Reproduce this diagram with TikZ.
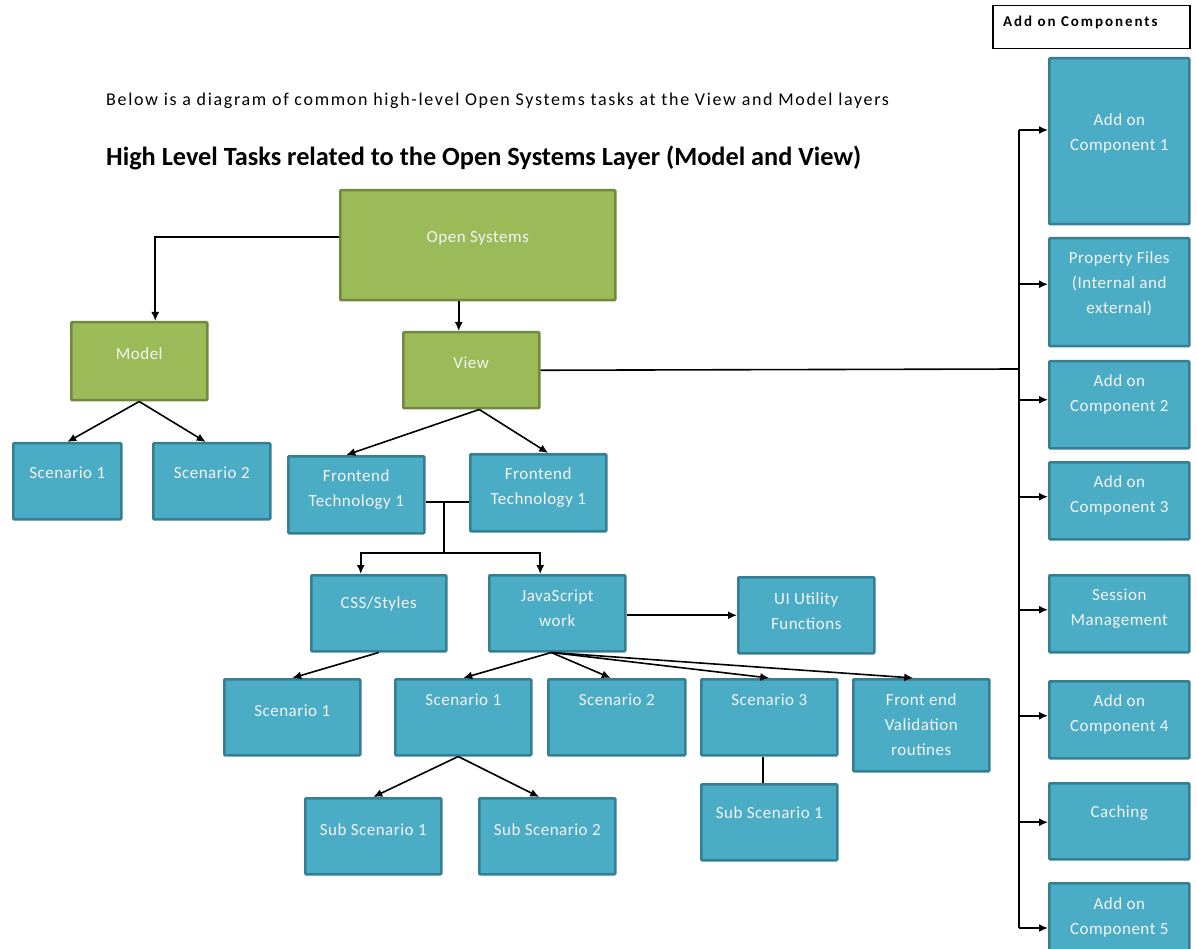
\documentclass[tikz,border=0pt]{standalone}
\usepackage{fontspec}
\setmainfont{Carlito}
\usetikzlibrary{arrows.meta}
\definecolor{gfill}{HTML}{9BBB59}
\definecolor{gline}{HTML}{71893F}
\definecolor{bfill}{HTML}{4BACC6}
\definecolor{bline}{HTML}{357F93}
\definecolor{txtw}{HTML}{F4F4F4}
% style, name, x1, y1, x2, y2, text-y, text
\newcommand\bx[8]{%
  \node[#1, anchor=north west, minimum width={(#5-#3)*1pt}, minimum height={(#6-#4)*1pt},
    label={[boxtext, yshift={((#4+#6)/2-#7)*1pt}]center:#8}] (#2) at (#3,#4) {};}
\begin{document}
\begin{tikzpicture}[x=1pt, y=-1pt,
  gbox/.style={draw=gline, fill=gfill, line width=2.5pt, rounded corners=1pt, inner sep=0pt},
  bbox/.style={draw=bline, fill=bfill, line width=2.5pt, rounded corners=1pt, inner sep=0pt},
  hbox/.style={draw=black, line width=1.5pt, inner sep=0pt},
  boxtext/.style={text=txtw, font=\fontsize{17}{25}\selectfont\addfontfeatures{LetterSpace=3}, align=center, inner sep=0pt},
  arr/.style={draw=black, line width=1.6pt, -{Latex[length=9pt,width=8pt]}},
  ln/.style={draw=black, line width=1.6pt}]
\useasboundingbox (0,0) rectangle (1197,949);

\node[anchor=west, inner sep=0pt, font=\fontsize{18}{20}\selectfont\addfontfeatures{LetterSpace=9.3}] (intro) at (106,101)
  {Below is a diagram of common high-level Open Systems tasks at the View and Model layers};
\node[anchor=west, inner sep=0pt, font=\fontsize{26.3}{30}\selectfont\bfseries] (title) at (106,158)
  {High Level Tasks related to the Open Systems Layer (Model and View)};

% main tree
\bx{gbox}{os}{339}{189}{614}{299}{237}{Open Systems}
\bx{gbox}{model}{70}{321}{206}{399}{352}{Model}
\bx{gbox}{view}{402}{331}{538}{407}{361}{View}
\bx{bbox}{ms1}{12}{442}{120}{518}{471}{Scenario 1}
\bx{bbox}{ms2}{152}{442}{269}{518}{471}{Scenario 2}
\bx{bbox}{ftl}{287}{455}{423}{532}{488}{Frontend\\Technology 1}
\bx{bbox}{ftr}{469}{453}{605}{530}{486}{Frontend\\Technology 1}
\bx{bbox}{css}{310}{574}{445}{650}{603}{CSS/Styles}
\bx{bbox}{js}{488}{574}{624}{650}{607}{JavaScript\\work}
\bx{bbox}{ui}{737}{576}{873}{652}{610}{UI Utility\\Functions}
\bx{bbox}{cs1}{223}{678}{359}{754}{709}{Scenario 1}
\bx{bbox}{js1}{394}{678}{530}{754}{698}{Scenario 1}
\bx{bbox}{js2}{547}{678}{684}{754}{698}{Scenario 2}
\bx{bbox}{js3}{700}{678}{836}{754}{698}{Scenario 3}
\bx{bbox}{fev}{852}{678}{988}{770}{723}{Front end\\Validation\\routines}
\bx{bbox}{ss1}{304}{797}{440}{873}{828}{Sub Scenario 1}
\bx{bbox}{ss2}{478}{797}{614}{873}{828}{Sub Scenario 2}
\bx{bbox}{ss3}{700}{783}{836}{859}{811}{Sub Scenario 1}

% add-on column
\node[hbox, anchor=north west, minimum width=197pt, minimum height=43pt] (addhead) at (992,5) {};
\node[anchor=west, inner sep=0pt, font=\fontsize{15}{18}\selectfont\bfseries\addfontfeatures{LetterSpace=13}] (addtext) at (1003,22) {Add on Components};
\bx{bbox}{c1}{1048}{57}{1188}{223}{132}{Add on\\Component 1}
\bx{bbox}{pf}{1048}{237}{1188}{345}{283}{Property Files\\(Internal and\\external)}
\bx{bbox}{c2}{1048}{360}{1188}{447}{393}{Add on\\Component 2}
\bx{bbox}{c3}{1048}{461}{1188}{538}{494}{Add on\\Component 3}
\bx{bbox}{sm}{1048}{574}{1188}{651}{607}{Session\\Management}
\bx{bbox}{c4}{1048}{680}{1188}{757}{713}{Add on\\Component 4}
\bx{bbox}{cach}{1048}{782}{1188}{858}{812}{Caching}
\bx{bbox}{c5}{1048}{882}{1188}{962}{916}{Add on\\Component 5}

% connectors: main tree
\draw[arr] ([yshift=8pt]os.west) -| ([xshift=16pt]model.north);
\draw[arr] ([xshift=-19pt]os.south) -- ([xshift=-19pt]os.south |- view.north);
\draw[arr] (model.south) -- (ms1.north);
\draw[arr] (model.south) -- ([xshift=-6pt]ms2.north);
\draw[arr] ([xshift=8pt]view.south) -- ([xshift=-10pt]ftl.north);
\draw[arr] ([xshift=8pt]view.south) -- ([xshift=10pt]ftr.north);
\coordinate (bus1) at (444,502);
\coordinate (bus2) at (444,553);
\draw[ln] (ftl.east |- bus1) -- (ftr.west |- bus1);
\draw[ln] (bus1) -- (bus2);
\draw[arr] (bus2) -| ([xshift=-18pt]css.north);
\draw[arr] (bus2) -| ([xshift=-17pt]js.north);
\draw[arr] ([yshift=-2pt]js.east) -- ([yshift=-2pt]js.east -| ui.west);
\draw[arr] (css.south) -- (cs1.north);
\draw[arr] ([xshift=-6pt]js.south) -- (js1.north);
\draw[arr] ([xshift=-6pt]js.south) -- ([xshift=-6pt]js2.north);
\draw[arr] ([xshift=-6pt]js.south) -- (js3.north);
\draw[arr] ([xshift=-6pt]js.south) -- ([xshift=-8pt]fev.north);
\draw[arr] ([xshift=-5pt]js1.south) -- (ss1.north);
\draw[arr] ([xshift=-5pt]js1.south) -- ([xshift=-8pt]ss2.north);
\draw[ln] ([xshift=-6pt]js3.south) -- ([xshift=-6pt]js3.south |- ss3.north);

% connectors: add-on bus
\coordinate (vb) at (1019,369);
\coordinate (bt) at (1019,130);
\coordinate (bb) at (1019,928);
\draw[ln] (view.east) -- (vb);
\draw[ln] (bt) -- (bb);
\draw[arr] (bt) -- (bt -| c1.west);
\draw[arr] ([yshift=8pt]pf.west -| bt) -- ([yshift=8pt]pf.west);
\draw[arr] ([yshift=5pt]c2.west -| bt) -- ([yshift=5pt]c2.west);
\draw[arr] ([yshift=4pt]c3.west -| bt) -- ([yshift=4pt]c3.west);
\draw[arr] ([yshift=4pt]sm.west -| bt) -- ([yshift=4pt]sm.west);
\draw[arr] ([yshift=4pt]c4.west -| bt) -- ([yshift=4pt]c4.west);
\draw[arr] ([yshift=-1pt]cach.west -| bt) -- ([yshift=-1pt]cach.west);
\draw[arr] (bb) -- (bb -| c5.west);
\end{tikzpicture}
\end{document}
